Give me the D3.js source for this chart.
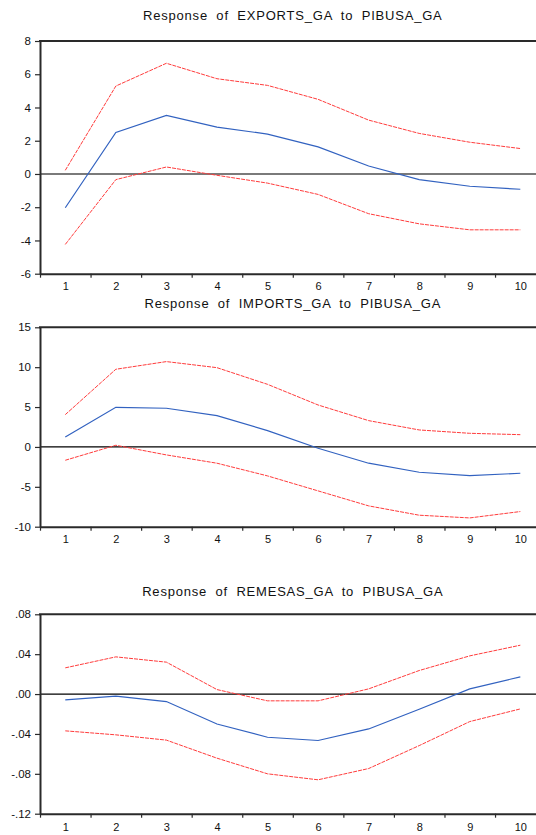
<!DOCTYPE html>
<html>
<head>
<meta charset="utf-8">
<script src="https://cdn.jsdelivr.net/npm/d3@7"></script>
<style>
  html, body { margin: 0; padding: 0; background: #fff; }
  svg { display: block; }
  text { font-family: Arial, "Liberation Sans", sans-serif; fill: #111; }
</style>
</head>
<body>
<svg id="chart" width="536" height="835"></svg>
<script>
// ---- data ----
const periods = [1, 2, 3, 4, 5, 6, 7, 8, 9, 10];

const titles = [
  "Response of EXPORTS_GA to PIBUSA_GA",
  "Response of IMPORTS_GA to PIBUSA_GA",
  "Response of REMESAS_GA to PIBUSA_GA"
];

const exportsResp  = [-2.03, 2.50, 3.52, 2.82, 2.40, 1.63, 0.48, -0.34, -0.74, -0.92];
const exportsUpper = [0.22, 5.29, 6.66, 5.73, 5.33, 4.49, 3.24, 2.44, 1.91, 1.53];
const exportsLower = [-4.24, -0.34, 0.42, -0.08, -0.55, -1.23, -2.39, -3.00, -3.36, -3.36];

const importsResp  = [1.25, 4.97, 4.85, 3.93, 2.05, -0.17, -2.04, -3.17, -3.59, -3.30];
const importsUpper = [4.05, 9.74, 10.70, 9.94, 7.85, 5.26, 3.30, 2.13, 1.71, 1.54];
const importsLower = [-1.67, 0.21, -1.00, -2.04, -3.63, -5.51, -7.39, -8.56, -8.90, -8.10];

const remesasResp  = [-0.0058, -0.0021, -0.0075, -0.0300, -0.0433, -0.0466, -0.0350, -0.0152, 0.0052, 0.0173];
const remesasUpper = [0.0263, 0.0373, 0.0320, 0.0045, -0.0068, -0.0068, 0.0052, 0.0236, 0.0383, 0.0490];
const remesasLower = [-0.0369, -0.0409, -0.0462, -0.0643, -0.0800, -0.0860, -0.0747, -0.0517, -0.0276, -0.0149];

const exportsTicks = [8, 6, 4, 2, 0, -2, -4, -6];
const exportsTickLabels = ["8", "6", "4", "2", "0", "-2", "-4", "-6"];
const importsTicks = [15, 10, 5, 0, -5, -10];
const importsTickLabels = ["15", "10", "5", "0", "-5", "-10"];
const remesasTicks = [0.08, 0.04, 0, -0.04, -0.08, -0.12];
const remesasTickLabels = [".08", ".04", ".00", "-.04", "-.08", "-.12"];

// ---- layout ----
const svg = d3.select("#chart");
const plotLeft = 40, catStep = 50.56;
const x = d3.scaleLinear().domain([0.5, 10.5]).range([plotLeft, plotLeft + catStep * 10]);
const boundaries = d3.range(0.5, 11, 1);

const panels = [
  { title: titles[0], titleY: 19.5, top: 41, bottom: 273.7, domain: [-6, 8],
    resp: exportsResp, upper: exportsUpper, lower: exportsLower,
    ticks: exportsTicks, labels: exportsTickLabels, zeroColor: "#7a7a7a", zeroWidth: 2, labelPad: 8.5 },
  { title: titles[1], titleY: 308.3, top: 327.3, bottom: 526.7, domain: [-10, 15],
    resp: importsResp, upper: importsUpper, lower: importsLower,
    ticks: importsTicks, labels: importsTickLabels, zeroColor: "#000", zeroWidth: 1.3, labelPad: 8.8 },
  { title: titles[2], titleY: 596, top: 614.3, bottom: 813.7, domain: [-0.12, 0.08],
    resp: remesasResp, upper: remesasUpper, lower: remesasLower,
    ticks: remesasTicks, labels: remesasTickLabels, zeroColor: "#000", zeroWidth: 1.3, labelPad: 9.5 }
];

panels.forEach(p => {
  const g = svg.append("g");
  const y = d3.scaleLinear().domain(p.domain).range([p.bottom, p.top]);

  // title
  g.append("text")
    .attr("x", (x.range()[0] + x.range()[1]) / 2)
    .attr("y", p.titleY)
    .attr("text-anchor", "middle")
    .style("font-size", "13px")
    .style("letter-spacing", "0.8px")
    .style("word-spacing", "4px")
    .text(p.title);

  // zero line
  g.append("line")
    .attr("x1", x.range()[0]).attr("x2", 540)
    .attr("y1", y(0)).attr("y2", y(0))
    .attr("stroke", p.zeroColor).attr("stroke-width", p.zeroWidth);

  // top border
  g.append("line")
    .attr("x1", x.range()[0] - 1).attr("x2", 540)
    .attr("y1", p.top).attr("y2", p.top)
    .attr("stroke", "#2a2a2a").attr("stroke-width", 2);

  // y axis
  const yAxis = d3.axisLeft(y)
    .tickValues(p.ticks)
    .tickFormat((d, i) => p.labels[i])
    .tickSize(5).tickPadding(4).tickSizeOuter(0);
  const ya = g.append("g").attr("transform", `translate(${x.range()[0]},0)`).call(yAxis);
  ya.select(".domain").attr("stroke", "#2a2a2a").attr("stroke-width", 2);
  ya.selectAll(".tick line").attr("stroke", "#2a2a2a").attr("stroke-width", 1.2);
  ya.selectAll(".tick text").style("font-size", "11.5px").attr("fill", "#111");

  // x axis: ticks between categories
  const xTicks = d3.axisBottom(x).tickValues(boundaries).tickFormat("").tickSize(4).tickSizeOuter(0);
  const xa = g.append("g").attr("transform", `translate(0,${p.bottom})`).call(xTicks);
  xa.select(".domain").attr("stroke", "#2a2a2a").attr("stroke-width", 2);
  xa.selectAll(".tick line").attr("stroke", "#2a2a2a").attr("stroke-width", 1.2);

  // x labels centered on categories
  const xLabels = d3.axisBottom(x).tickValues(periods).tickFormat(d3.format("d")).tickSize(0).tickPadding(p.labelPad);
  const xl = g.append("g").attr("transform", `translate(0,${p.bottom})`).call(xLabels);
  xl.select(".domain").remove();
  xl.selectAll(".tick text").style("font-size", "11px").attr("fill", "#111");

  const line = d3.line().x((d, i) => x(periods[i])).y(d => y(d));

  g.append("path").datum(p.upper).attr("d", line)
    .attr("fill", "none").attr("stroke", "#ff3c3c").attr("stroke-width", 1)
    .attr("stroke-dasharray", "4,1");
  g.append("path").datum(p.lower).attr("d", line)
    .attr("fill", "none").attr("stroke", "#ff3c3c").attr("stroke-width", 1)
    .attr("stroke-dasharray", "4,1");
  g.append("path").datum(p.resp).attr("d", line)
    .attr("fill", "none").attr("stroke", "#3262c0").attr("stroke-width", 1.2);
});
</script>
</body>
</html>
